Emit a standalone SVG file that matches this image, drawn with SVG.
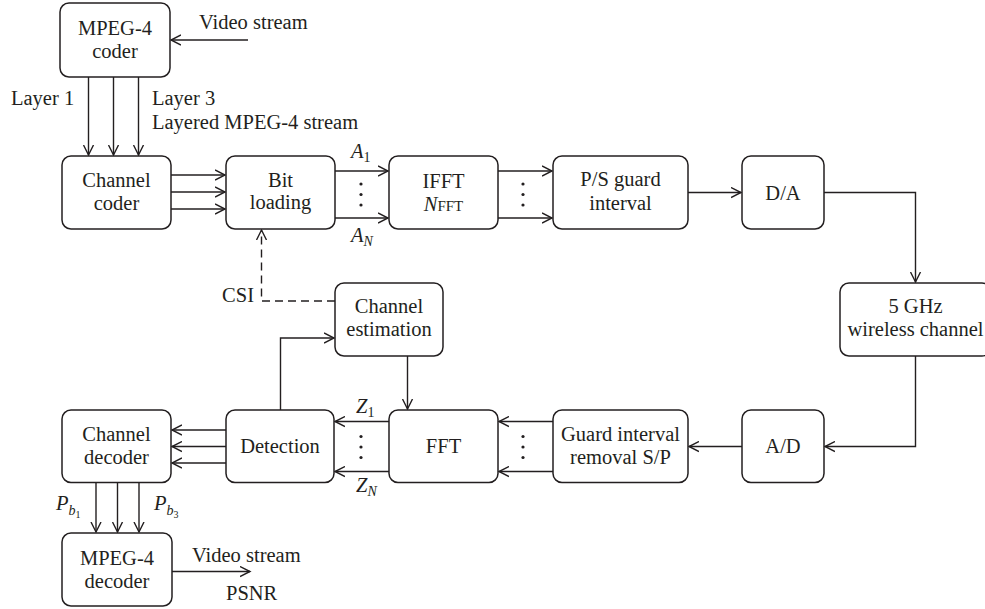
<svg xmlns="http://www.w3.org/2000/svg" width="985" height="609" viewBox="0 0 985 609">
<style>
.box{fill:#fff;stroke:#231f20;stroke-width:1.5}
.t{font-family:"Liberation Serif",serif;font-size:20.5px;fill:#231f20}
.c{text-anchor:middle}
.ln{fill:none;stroke:#231f20;stroke-width:1.4}
.ar{marker-end:url(#ah)}
.dash{stroke-dasharray:8,5}
.i{font-style:italic}
</style>
<defs>
<marker id="ah" markerWidth="12" markerHeight="12" refX="10" refY="6" orient="auto" markerUnits="userSpaceOnUse">
<path d="M0,1 L10,6 L0,11" fill="none" stroke="#231f20" stroke-width="1.4"/>
</marker>
</defs>
<rect width="985" height="609" fill="#fff"/>

<g id="connectors">
<path class="ln ar" d="M248,40 H171"/>
<path class="ln ar" d="M88.5,77 V155"/>
<path class="ln ar" d="M113.5,77 V155"/>
<path class="ln ar" d="M138.5,77 V155"/>
<path class="ln ar" d="M171,175 H225"/>
<path class="ln ar" d="M171,192 H225"/>
<path class="ln ar" d="M171,209 H225"/>
<path class="ln ar" d="M335,171 H388"/>
<path class="ln ar" d="M335,218 H388"/>
<path class="ln ar" d="M498,171 H552"/>
<path class="ln ar" d="M498,218 H552"/>
<path class="ln ar" d="M688,192.5 H741"/>
<path class="ln ar" d="M824,192.5 H915.5 V282"/>
<path class="ln ar" d="M915.5,356 V446.5 H825"/>
<path class="ln ar" d="M742,446.5 H689"/>
<path class="ln ar" d="M553,421.5 H499"/>
<path class="ln ar" d="M553,471.5 H499"/>
<path class="ln ar" d="M389,421.5 H335"/>
<path class="ln ar" d="M389,471.5 H335"/>
<path class="ln ar" d="M280.5,410 V338 H334"/>
<path class="ln ar" d="M407.5,356 V409"/>
<path class="ln dash ar" d="M335,301 H261.5 V230"/>
<path class="ln ar" d="M226,430 H172"/>
<path class="ln ar" d="M226,446.5 H172"/>
<path class="ln ar" d="M226,463 H172"/>
<path class="ln ar" d="M96,482 V532"/>
<path class="ln ar" d="M117.5,482 V532"/>
<path class="ln ar" d="M139,482 V532"/>
<path class="ln ar" d="M172,571.5 H250"/>
<g fill="#231f20">
<circle cx="361" cy="184" r="1.6"/><circle cx="361" cy="194.5" r="1.6"/><circle cx="361" cy="205" r="1.6"/>
<circle cx="523" cy="184" r="1.6"/><circle cx="523" cy="194.5" r="1.6"/><circle cx="523" cy="205" r="1.6"/>
<circle cx="361" cy="436.5" r="1.6"/><circle cx="361" cy="447" r="1.6"/><circle cx="361" cy="457.5" r="1.6"/>
<circle cx="523" cy="436.5" r="1.6"/><circle cx="523" cy="447" r="1.6"/><circle cx="523" cy="457.5" r="1.6"/>
</g>
</g>

<g id="labels">
<text class="t" x="199" y="29">Video stream</text>
<text class="t" x="11" y="105">Layer 1</text>
<text class="t" x="152" y="105">Layer 3</text>
<text class="t" x="152" y="129">Layered MPEG-4 stream</text>
<text class="t" x="351" y="158"><tspan class="i">A</tspan><tspan font-size="14" dy="4">1</tspan></text>
<text class="t" x="351" y="242"><tspan class="i">A</tspan><tspan class="i" font-size="14" dy="4">N</tspan></text>
<text class="t" x="254" y="302" text-anchor="end">CSI</text>
<text class="t" x="356" y="413"><tspan class="i">Z</tspan><tspan font-size="14" dy="4">1</tspan></text>
<text class="t" x="356" y="492"><tspan class="i">Z</tspan><tspan class="i" font-size="14" dy="4">N</tspan></text>
<text class="t" x="56" y="510"><tspan class="i">P</tspan><tspan class="i" font-size="14" dy="5">b</tspan><tspan font-size="10" dy="3">1</tspan></text>
<text class="t" x="154" y="510"><tspan class="i">P</tspan><tspan class="i" font-size="14" dy="5">b</tspan><tspan font-size="10" dy="3">3</tspan></text>
<text class="t" x="192" y="562">Video stream</text>
<text class="t" x="226" y="600">PSNR</text>
</g>

<g id="mpeg4-coder">
<rect class="box" x="60" y="3" width="110" height="74" rx="9"/>
<text class="t c" x="115" y="35">MPEG-4</text>
<text class="t c" x="115" y="58">coder</text>
</g>
<g id="channel-coder">
<rect class="box" x="62" y="156" width="109" height="73" rx="9"/>
<text class="t c" x="116.5" y="187">Channel</text>
<text class="t c" x="116.5" y="210">coder</text>
</g>
<g id="bit-loading">
<rect class="box" x="226" y="156" width="109" height="73" rx="9"/>
<text class="t c" x="280.5" y="187">Bit</text>
<text class="t c" x="280.5" y="209">loading</text>
</g>
<g id="ifft">
<rect class="box" x="389" y="156" width="109" height="73" rx="9"/>
<text class="t c" x="443.5" y="188">IFFT</text>
<text class="t c" x="443.5" y="211"><tspan class="i">N</tspan><tspan font-size="15">FFT</tspan></text>
</g>
<g id="ps-guard">
<rect class="box" x="553" y="156" width="135" height="73" rx="9"/>
<text class="t c" x="620.5" y="186">P/S guard</text>
<text class="t c" x="620.5" y="210">interval</text>
</g>
<g id="da">
<rect class="box" x="742" y="156" width="82" height="73" rx="9"/>
<text class="t c" x="783" y="200">D/A</text>
</g>
<g id="wireless-channel">
<rect class="box" x="840" y="283" width="151" height="73" rx="9"/>
<text class="t c" x="915.5" y="313">5 GHz</text>
<text class="t c" x="915.5" y="336">wireless channel</text>
</g>
<g id="channel-estimation">
<rect class="box" x="335" y="283" width="108" height="73" rx="9"/>
<text class="t c" x="389" y="313">Channel</text>
<text class="t c" x="389" y="336">estimation</text>
</g>
<g id="channel-decoder">
<rect class="box" x="62" y="410" width="109" height="72.5" rx="9"/>
<text class="t c" x="116.5" y="441">Channel</text>
<text class="t c" x="116.5" y="464">decoder</text>
</g>
<g id="detection">
<rect class="box" x="226" y="410" width="108" height="72.5" rx="9"/>
<text class="t c" x="280" y="453">Detection</text>
</g>
<g id="fft">
<rect class="box" x="389" y="410" width="109" height="72.5" rx="9"/>
<text class="t c" x="443.5" y="453">FFT</text>
</g>
<g id="guard-removal">
<rect class="box" x="553" y="410" width="135" height="72.5" rx="9"/>
<text class="t c" x="620.5" y="441">Guard interval</text>
<text class="t c" x="620.5" y="464">removal S/P</text>
</g>
<g id="ad">
<rect class="box" x="742" y="410" width="82" height="72.5" rx="9"/>
<text class="t c" x="783" y="453">A/D</text>
</g>
<g id="mpeg4-decoder">
<rect class="box" x="62" y="533" width="110" height="73" rx="9"/>
<text class="t c" x="117" y="565">MPEG-4</text>
<text class="t c" x="117" y="588">decoder</text>
</g>
</svg>
